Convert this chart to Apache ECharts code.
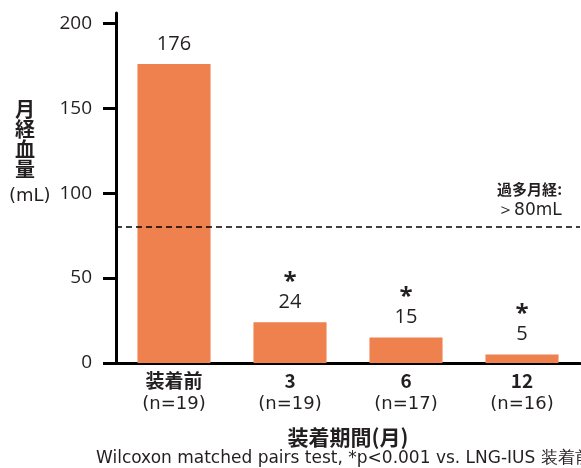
<!DOCTYPE html>
<html>
<head>
<meta charset="utf-8">
<script src="https://cdn.jsdelivr.net/npm/echarts@6/dist/echarts.min.js"></script>
<style>
  html, body { margin: 0; padding: 0; background: #fff; }
  #chart { width: 581px; height: 468px; }
</style>
</head>
<body>
<div id="chart"></div>
<script>
// Menstrual blood loss by months since device insertion
const categories = ['装着前', '3', '6', '12'];
const sampleSizes = ['(n=19)', '(n=19)', '(n=17)', '(n=16)'];
const bloodLoss = [176, 24, 15, 5];
const significant = [false, true, true, true];
const yTicks = [0, 50, 100, 150, 200];
const thresholdValue = 80;

const INK = '#231f20';
const BAR = '#ee814e';
const JP = '"Noto Sans CJK JP", "Noto Sans", sans-serif';
const NUM = '"Open Sans", "Noto Sans", sans-serif';
const WIDE = '"DejaVu Sans", "Noto Sans", sans-serif';

const chart = echarts.init(document.getElementById('chart'));

chart.setOption({
  animation: false,
  grid: { left: 116, right: 1, top: 13, bottom: 105, containLabel: false },
  xAxis: {
    type: 'category',
    data: categories,
    axisLine: { lineStyle: { color: '#000', width: 3 } },
    axisTick: { show: false },
    axisLabel: {
      margin: 7,
      interval: 0,
      formatter: (v, i) => '{c|' + v + '}\n{n|' + sampleSizes[i] + '}',
      rich: {
        c: { fontFamily: JP, fontWeight: 'bold', fontSize: 19, color: INK, lineHeight: 22 },
        n: { fontFamily: WIDE, fontSize: 18, color: INK, lineHeight: 25 }
      }
    },
    name: '装着期間(月)',
    nameLocation: 'middle',
    nameGap: 64,
    nameTextStyle: { fontFamily: JP, fontWeight: 'bold', fontSize: 21, color: INK }
  },
  yAxis: {
    type: 'value',
    min: 0,
    max: 206,
    axisLine: { show: true, lineStyle: { color: '#000', width: 3 } },
    axisTick: { show: true, length: 13, lineStyle: { color: '#000', width: 3 }, customValues: yTicks },
    axisLabel: { customValues: yTicks, margin: 24, fontFamily: NUM, fontSize: 19, color: INK },
    splitLine: { show: false }
  },
  series: [{
    type: 'bar',
    data: bloodLoss,
    barWidth: '63%',
    itemStyle: { color: BAR },
    label: {
      show: true,
      position: 'top',
      distance: 8,
      formatter: p => (significant[p.dataIndex] ? '{s|*}\n' : '') + '{v|' + p.value + '}',
      rich: {
        s: { fontFamily: NUM, fontWeight: 'bold', fontSize: 24, color: INK, lineHeight: 22, padding: [0, 0, -6, 0] },
        v: { fontFamily: NUM, fontSize: 20, color: INK, lineHeight: 24 }
      }
    },
    markLine: {
      silent: true,
      symbol: 'none',
      data: [{ yAxis: thresholdValue }],
      lineStyle: { type: [6, 4], color: '#000', width: 1.6 },
      label: {
        position: 'insideEndTop',
        distance: [18, 5],
        formatter: '{a|過多月経:}\n{b|＞80mL}',
        rich: {
          a: { fontFamily: JP, fontWeight: 'bold', fontSize: 15, color: INK, lineHeight: 22, align: 'left' },
          b: { fontFamily: WIDE, fontSize: 17, color: INK, lineHeight: 22, align: 'left' }
        }
      }
    }
  }],
  graphic: [
    {
      type: 'text',
      left: 15,
      top: 99,
      style: {
        text: '月\n経\n血\n量',
        fontFamily: JP, fontWeight: 'bold', fontSize: 20, lineHeight: 20, fill: INK
      }
    },
    {
      type: 'text',
      left: 9,
      top: 187,
      style: { text: '(mL)', fontFamily: WIDE, fontSize: 18, fill: INK }
    },
    {
      type: 'text',
      left: 96,
      top: 450,
      style: {
        text: 'Wilcoxon matched pairs test, *p<0.001 vs. LNG-IUS 装着前',
        fontFamily: WIDE, fontSize: 17, fill: INK
      }
    }
  ]
});
</script>
</body>
</html>
